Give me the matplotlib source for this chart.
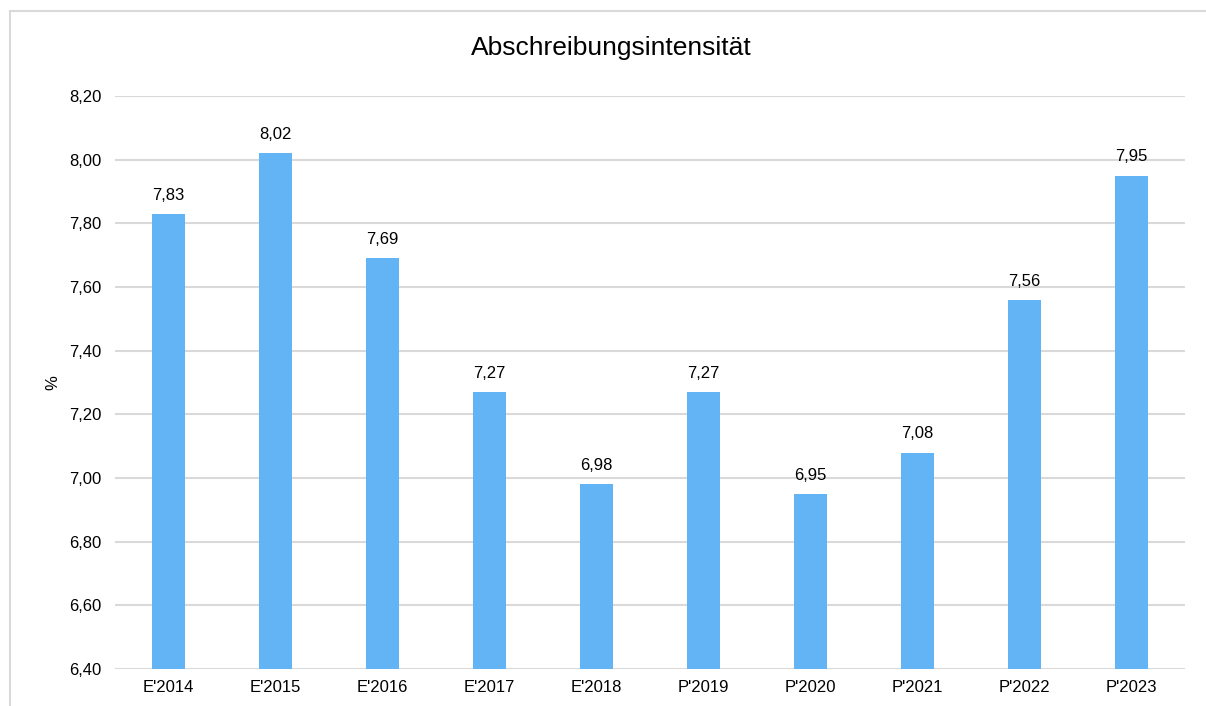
import matplotlib.pyplot as plt
from matplotlib.patches import Rectangle

categories = ["E'2014", "E'2015", "E'2016", "E'2017", "E'2018",
              "P'2019", "P'2020", "P'2021", "P'2022", "P'2023"]
values = [7.83, 8.02, 7.69, 7.27, 6.98, 7.27, 6.95, 7.08, 7.56, 7.95]
yticks = [6.40, 6.60, 6.80, 7.00, 7.20, 7.40, 7.60, 7.80, 8.00, 8.20]

plt.rcParams['font.family'] = ['Liberation Sans', 'DejaVu Sans']

fig = plt.figure(figsize=(12.06, 7.06), dpi=100)
ax = fig.add_axes([0.0954, 0.0524, 0.8872, 0.8116])

# chart frame (cut off at right and bottom like the original)
fig.patches.append(Rectangle((10 / 1206, -0.05), 1.1, 1 - 11 / 706 + 0.05,
                             transform=fig.transFigure, fill=False,
                             edgecolor='#d9d9d9', linewidth=1.5))

x = range(len(categories))
bars = ax.bar(x, [v - 6.40 for v in values], bottom=6.40, width=0.31,
              color='#63b4f5', zorder=3)

for xi, v in zip(x, values):
    ax.annotate(f"{v:.2f}".replace('.', ','), (xi, v), xytext=(0, 8),
                textcoords='offset points', ha='center', va='bottom',
                fontsize=12)

ax.set_xlim(-0.5, len(categories) - 0.5)
ax.set_ylim(6.40, 8.20)
ax.set_yticks(yticks)
ax.set_yticklabels([f"{t:.2f}".replace('.', ',') for t in yticks])
ax.set_xticks(list(x))
ax.set_xticklabels(categories)
ax.tick_params(axis='both', length=0, labelsize=12, pad=8)
ax.tick_params(axis='y', pad=10)
ax.grid(axis='y', color='#d9d9d9', linewidth=1.5, zorder=0)
for s in ax.spines.values():
    s.set_visible(False)

ax.set_ylabel('%', fontsize=12, labelpad=6)
fig.text(0.507, 0.932, 'Abschreibungsintensität', ha='center', va='center',
         fontsize=19)

fig.savefig('out.png', dpi=100)
